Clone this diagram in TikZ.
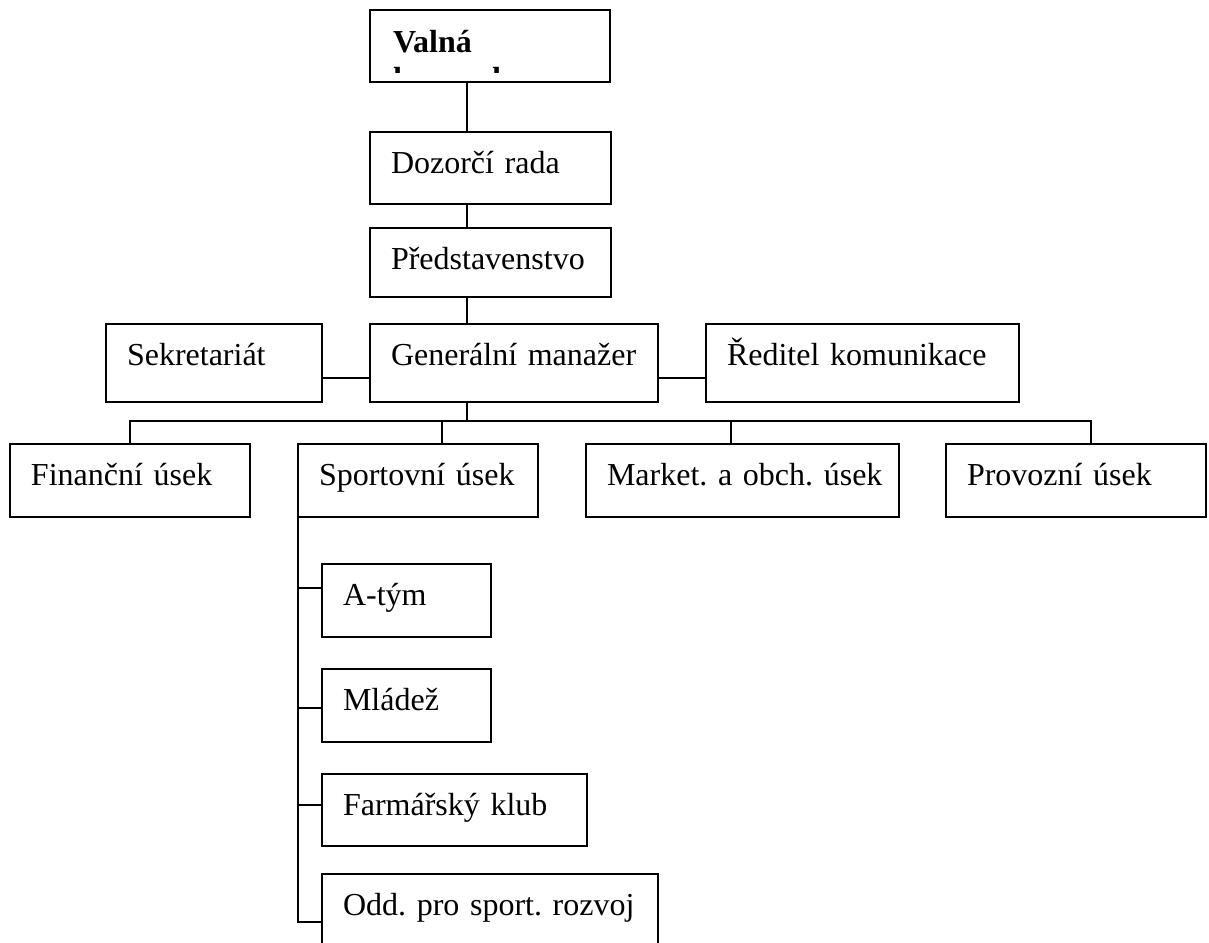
\documentclass[tikz,border=0pt]{standalone}
\usepackage{fontspec}
\setmainfont{Liberation Serif}
\usetikzlibrary{calc}
\frenchspacing
\begin{document}
\begin{tikzpicture}[x=0.5pt,y=-0.5pt,
  line width=1pt,
  every node/.style={font=\fontsize{16}{19}\selectfont},
  % box: #1 = text width, #2 = text depth (baseline sits 20.5pt below the top edge)
  box/.style 2 args={draw, rectangle, anchor=north west, outer sep=0pt,
    inner xsep=10.5pt, inner ysep=0pt, align=left,
    text height=20.5pt, text width=#1, text depth=#2},
  title/.style={anchor=base west, inner sep=0pt,
    font=\fontsize{16}{19}\selectfont\bfseries}]

\useasboundingbox (0,0) rectangle (1209,942);
\clip (0,0) rectangle (1209,942);

% top of the hierarchy: the title frame only shows what fits in its text area
\node[box={99pt}{15.5pt}] (valna) at (370,10) {};
\begin{scope}
  \clip (valna.north west) rectangle ($(valna.south east)+(0,-10)$);
  \node[title] (valnaA) at (392,52) {Valná};
  \node[title] (valnaB) at (392,89.5) {hromada};
\end{scope}
\node[box={99.5pt}{15.5pt}] (dozor) at (370,132) {\mbox{Dozorčí rada}};
\node[box={99.5pt}{14pt}]   (pred)  at (370,228) {\mbox{Představenstvo}};

% management row
\node[box={87pt}{18.5pt}]    (sekr)  at (106,324) {\mbox{Sekretariát}};
\node[box={123pt}{18.5pt}]   (gm)    at (370,324) {\mbox{Generální manažer}};
\node[box={135.5pt}{18.5pt}] (redit) at (706,324) {\mbox{Ředitel komunikace}};

% divisions
\node[box={99pt}{16pt}]    (fin)    at (10,444)  {\mbox{Finanční úsek}};
\node[box={99pt}{16pt}]    (sport)  at (298,444) {\mbox{Sportovní úsek}};
\node[box={135.5pt}{16pt}] (market) at (586,444) {\mbox{Market. a obch. úsek}};
\node[box={109pt}{16pt}]   (provoz) at (946,444) {\mbox{Provozní úsek}};

% sports division units
\node[box={63.5pt}{16pt}]    (atym)   at (322,564) {\mbox{A-tým}};
\node[box={63.5pt}{16pt}]    (mladez) at (322,669) {\mbox{Mládež}};
\node[box={111.5pt}{15.5pt}] (farm)   at (322,774) {\mbox{Farmářský klub}};
\node[box={147pt}{15.5pt}]   (odd)    at (322,874) {\mbox{Odd. pro sport. rozvoj}};

% helper coordinates for the connector grid
\coordinate (spine)   at (467,0);
\coordinate (midrow)  at (0,378);
\coordinate (bus)     at (0,421);
\coordinate (finx)    at (130,0);
\coordinate (sportx)  at (442,0);
\coordinate (marketx) at (731,0);
\coordinate (provx)   at (1091,0);
\coordinate (atymy)   at (0,588);
\coordinate (mladezy) at (0,708);
\coordinate (farmy)   at (0,805);
\coordinate (oddy)    at (0,922);

% vertical chain
\draw (valna.south -| spine) -- (dozor.north -| spine);
\draw (dozor.south -| spine) -- (pred.north -| spine);
\draw (pred.south -| spine)  -- (gm.north -| spine);

% staff positions beside the general manager
\draw (sekr.east |- midrow) -- (gm.west |- midrow);
\draw (gm.east |- midrow)   -- (redit.west |- midrow);

% bus to the divisions
\draw (gm.south -| spine) -- (bus -| spine);
\draw (fin.north -| finx) |- (bus -| provx) -- (provoz.north -| provx);
\draw (sport.north -| sportx)   -- (bus -| sportx);
\draw (market.north -| marketx) -- (bus -| marketx);

% sports division tree
\draw (sport.south west) |- (odd.west |- oddy);
\draw (sport.south west |- atymy)   -- (atym.west |- atymy);
\draw (sport.south west |- mladezy) -- (mladez.west |- mladezy);
\draw (sport.south west |- farmy)   -- (farm.west |- farmy);
\end{tikzpicture}
\end{document}
